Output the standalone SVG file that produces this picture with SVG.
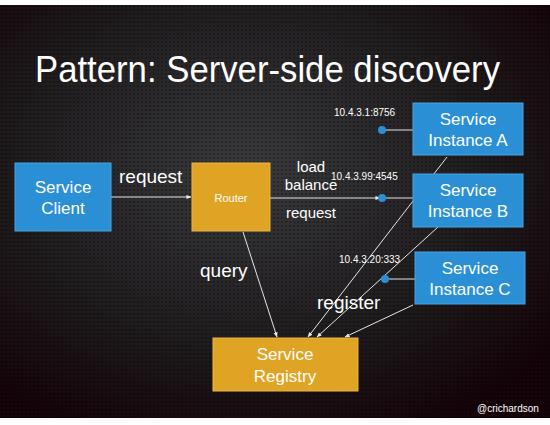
<svg xmlns="http://www.w3.org/2000/svg" width="550" height="425" viewBox="0 0 550 425">
<defs>
<radialGradient id="bg" cx="0.45" cy="0.4" r="0.7">
<stop offset="0" stop-color="#3a3a3c"/>
<stop offset="0.6" stop-color="#1f1c1e"/>
<stop offset="1" stop-color="#140308"/>
</radialGradient>
<pattern id="dots" width="4" height="4" patternUnits="userSpaceOnUse">
<circle cx="2" cy="2" r="1" fill="#000" fill-opacity="0.35"/>
</pattern>
<marker id="ah" viewBox="0 0 6 6" refX="5.5" refY="3" markerWidth="5" markerHeight="5" orient="auto">
<path d="M0,0.5 L6,3 L0,5.5 z" fill="#e8e8e8"/>
</marker>
</defs>
<style>
.blue{fill:#2b8fd6;stroke:#4aa3e0;stroke-width:1}
.gold{fill:#e0a424;stroke:#eab44a;stroke-width:1}
.bt{font-family:"Liberation Sans",Arial,sans-serif;font-size:17px;fill:#fff;text-anchor:middle}
.lbl{font-family:"Liberation Sans",Arial,sans-serif;font-size:19px;fill:#fff}
.ip{font-family:"Liberation Sans",Arial,sans-serif;font-size:10px;fill:#fff}
.ln{stroke:#e6e6e6;stroke-width:1;fill:none}
.dot{fill:#2b8fd6}
</style>
<rect x="0" y="0" width="550" height="425" fill="#ffffff"/>
<rect x="0" y="5" width="550" height="413" fill="url(#bg)"/>
<rect x="0" y="5" width="550" height="413" fill="url(#dots)"/>
<text x="35" y="82" font-family="Liberation Sans,Arial,sans-serif" font-size="36" fill="#fff" textLength="465" lengthAdjust="spacingAndGlyphs">Pattern: Server-side discovery</text>

<g id="connectors">
<line class="ln" x1="111" y1="197" x2="191" y2="197" marker-end="url(#ah)"/>
<line class="ln" x1="270" y1="198" x2="380" y2="198" marker-end="url(#ah)"/>
<line class="ln" x1="382" y1="130" x2="413" y2="130"/>
<line class="ln" x1="382" y1="198" x2="413" y2="198"/>
<line class="ln" x1="385" y1="279" x2="415" y2="279"/>
<line class="ln" x1="243" y1="232" x2="277" y2="337" marker-end="url(#ah)"/>
<line class="ln" x1="447" y1="157" x2="308" y2="337" marker-end="url(#ah)"/>
<line class="ln" x1="438" y1="227" x2="317" y2="337" marker-end="url(#ah)"/>
<line class="ln" x1="413" y1="305" x2="345" y2="337" marker-end="url(#ah)"/>
<circle class="dot" cx="382" cy="130" r="4"/>
<circle class="dot" cx="382" cy="198" r="4"/>
<circle class="dot" cx="385" cy="279" r="4"/>
</g>

<g id="client">
<rect class="blue" x="15" y="163" width="96" height="68"/>
<text class="bt" x="63" y="193">Service</text>
<text class="bt" x="63" y="214">Client</text>
</g>
<g id="router">
<rect class="gold" x="192" y="163" width="78" height="68"/>
<text x="231" y="202" font-family="Liberation Sans,Arial,sans-serif" font-size="11" fill="#fff" text-anchor="middle">Router</text>
</g>
<g id="instanceA">
<rect class="blue" x="413" y="103" width="110" height="52"/>
<text class="bt" x="468" y="125">Service</text>
<text class="bt" x="468" y="146">Instance A</text>
</g>
<g id="instanceB">
<rect class="blue" x="413" y="174" width="110" height="53"/>
<text class="bt" x="468" y="196">Service</text>
<text class="bt" x="468" y="217">Instance B</text>
</g>
<g id="instanceC">
<rect class="blue" x="415" y="252" width="110" height="52"/>
<text class="bt" x="470" y="274">Service</text>
<text class="bt" x="470" y="295">Instance C</text>
</g>
<g id="registry">
<rect class="gold" x="213" y="338" width="145" height="53"/>
<text class="bt" x="285" y="360">Service</text>
<text class="bt" x="285" y="382">Registry</text>
</g>

<g id="labels">
<text class="lbl" x="119" y="183">request</text>
<text x="311" y="172" font-family="Liberation Sans,Arial,sans-serif" font-size="15" fill="#fff" text-anchor="middle">load</text>
<text x="311" y="190" font-family="Liberation Sans,Arial,sans-serif" font-size="15" fill="#fff" text-anchor="middle">balance</text>
<text x="311" y="218" font-family="Liberation Sans,Arial,sans-serif" font-size="15" fill="#fff" text-anchor="middle">request</text>
<text class="ip" x="334" y="116">10.4.3.1:8756</text>
<text class="ip" x="331" y="180">10.4.3.99:4545</text>
<text class="ip" x="339" y="263">10.4.3.20:333</text>
<text class="lbl" x="200" y="277">query</text>
<text class="lbl" x="317" y="309">register</text>
<text x="477" y="412" font-family="Liberation Sans,Arial,sans-serif" font-size="10" fill="#fff">@crichardson</text>
</g>
</svg>
